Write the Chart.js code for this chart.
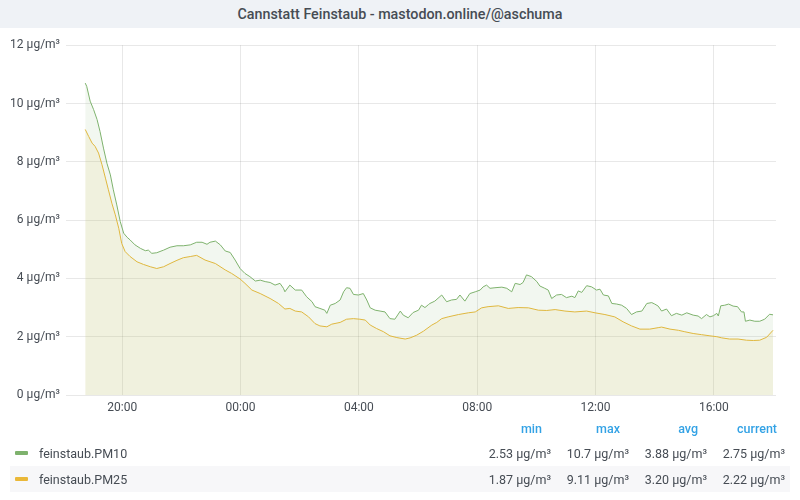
<!DOCTYPE html>
<html>
<head>
<meta charset="utf-8">
<script src="https://cdn.jsdelivr.net/npm/chart.js@4"></script>
<style>
  html, body { margin: 0; padding: 0; background: #fff; font-family: Roboto, sans-serif; }
  #wrap { position: relative; width: 800px; height: 500px; overflow: hidden; }
  #title { position: absolute; left: 0; top: 0; width: 800px; height: 28px; background: #eff2f6;
           color: #464c54; font-size: 14.3px; font-weight: 500; text-align: center; line-height: 28px; }
  #box { position: absolute; left: 0; top: 32px; width: 800px; height: 390px; }
  #legend { position: absolute; left: 10px; top: 416px; width: 780px; border-collapse: collapse;
            font-size: 12.5px; color: #464c54; }
  #legend td, #legend th { padding: 0; height: 26px; white-space: nowrap; }
  #legend th { color: #33a2e5; font-weight: 500; text-align: right; padding-right: 9px; height: 24px; }
  #legend th.last { padding-right: 13px; }
  #legend td.v { text-align: right; width: 78px; }
  #legend td.last { padding-right: 5px; }
  #legend tr.alt td { background: #f7f7f9; }
  .sw { display: inline-block; width: 13px; height: 4px; margin: 0 11px 3px 5px; vertical-align: middle; border-radius: 1px; }
</style>
</head>
<body>
<div id="wrap">
  <div id="title">Cannstatt Feinstaub - mastodon.online/@aschuma</div>
  <div id="box"><canvas id="c" width="800" height="390"></canvas></div>
  <table id="legend"></table>
</div>
<script>
// ticks
const tickLabels = ['20:00', '00:00', '04:00', '08:00', '12:00', '16:00'];
const yTicks = [0, 2, 4, 6, 8, 10, 12];
const unit = ' µg/m³';

// feinstaub.PM10
const pm10Times = ['18:45','18:48','18:55','19:02','19:09','19:15','19:22','19:29','19:36','19:42','19:49','19:56',
  '20:03','20:10','20:16','20:26','20:37','20:47','20:53','21:00','21:10','21:24','21:37','21:51','22:04','22:18',
  '22:31','22:42','22:52','22:58','23:09','23:19','23:29','23:39','23:49','23:59','00:09','00:19','00:30','00:40',
  '00:50','01:00','01:10','01:20','01:27','01:30','01:40','01:51','02:04','02:14','02:25','02:31','02:41','02:51',
  '02:55','03:02','03:12','03:22','03:29','03:35','03:42','03:49','03:59','04:09','04:16','04:23','04:33','04:43',
  '04:53','05:03','05:13','05:24','05:30','05:40','05:50','06:01','06:07','06:14','06:21','06:24','06:34','06:48',
  '06:58','07:08','07:18','07:25','07:35','07:45','07:56','08:06','08:12','08:19','08:26','08:36','08:50','09:00',
  '09:10','09:17','09:27','09:33','09:40','09:50','10:01','10:07','10:17','10:24','10:31','10:41','10:51','11:01',
  '11:12','11:18','11:25','11:32','11:42','11:52','12:02','12:09','12:16','12:26','12:33','12:43','12:53','13:03',
  '13:13','13:23','13:34','13:44','13:54','14:00','14:07','14:14','14:24','14:34','14:44','14:55','15:05','15:18',
  '15:28','15:35','15:45','15:52','15:59','16:06','16:09','16:14','16:22','16:30','16:39','16:48','16:56','17:01',
  '17:04','17:13','17:23','17:33','17:43','17:53','18:00'];
const pm10Values = [10.70,10.59,10.08,9.79,9.45,9.04,8.47,7.95,7.55,7.04,6.52,5.95,
  5.55,5.41,5.32,5.15,5.03,4.95,4.97,4.86,4.88,4.97,5.07,5.12,5.12,5.15,
  5.24,5.24,5.17,5.24,5.28,5.15,4.94,4.89,4.63,4.34,4.17,4.06,3.91,3.94,
  3.89,3.86,3.77,3.83,3.66,3.54,3.77,3.60,3.60,3.37,3.20,3.03,2.97,2.91,
  2.80,3.08,3.14,3.26,3.54,3.68,3.66,3.45,3.43,3.48,3.26,2.99,2.91,2.88,
  2.85,2.62,2.60,2.88,2.74,2.65,2.83,2.91,3.08,3.00,3.10,3.14,3.22,3.43,
  3.20,3.26,3.28,3.43,3.22,3.48,3.54,3.60,3.71,3.77,3.66,3.68,3.70,3.66,
  3.54,3.83,3.79,3.86,4.12,4.06,3.89,3.74,3.66,3.60,3.31,3.43,3.45,3.34,
  3.39,3.34,3.57,3.52,3.75,3.71,3.60,3.63,3.43,3.40,3.14,3.12,3.08,2.97,
  2.76,2.85,2.88,3.14,3.17,3.12,3.05,2.88,2.95,2.72,2.80,2.74,2.82,2.74,
  2.71,2.62,2.76,2.68,2.72,2.80,2.71,3.06,3.08,3.12,3.05,3.03,2.85,2.85,
  2.53,2.57,2.53,2.53,2.60,2.77,2.75];

// feinstaub.PM25
const pm25Times = ['18:45','18:52','18:59','19:05','19:12','19:19','19:26','19:32','19:39','19:46','19:53','19:59',
  '20:06','20:16','20:30','20:43','20:57','21:10','21:24','21:37','21:51','22:04','22:18','22:31','22:48','23:09',
  '23:29','23:42','23:59','00:09','00:23','00:40','01:00','01:17','01:30','01:40','01:51','02:04','02:18','02:31',
  '02:41','02:55','03:05','03:22','03:35','03:49','04:02','04:13','04:23','04:36','04:50','05:03','05:17','05:34',
  '05:44','05:57','06:11','06:28','06:38','06:48','07:01','07:22','07:42','07:56','08:09','08:22','08:43','09:03',
  '09:23','09:44','10:04','10:21','10:38','10:58','11:18','11:42','11:59','12:19','12:39','12:56','13:13','13:30',
  '13:50','14:07','14:14','14:31','14:48','15:01','15:18','15:35','15:52','16:06','16:16','16:32','16:49','17:06',
  '17:20','17:33','17:47','18:00'];
const pm25Values = [9.11,8.87,8.64,8.53,8.30,7.90,7.44,7.04,6.58,6.18,5.72,5.20,
  4.92,4.75,4.57,4.48,4.40,4.34,4.40,4.51,4.62,4.71,4.75,4.79,4.63,4.51,
  4.29,4.17,3.98,3.83,3.60,3.48,3.31,3.14,2.95,2.97,2.88,2.85,2.68,2.45,
  2.37,2.34,2.43,2.49,2.60,2.62,2.60,2.57,2.40,2.28,2.17,2.03,1.97,1.92,
  1.96,2.05,2.19,2.40,2.49,2.62,2.68,2.76,2.82,2.85,2.99,3.03,3.06,2.97,
  3.00,2.99,2.91,2.90,2.93,2.88,2.85,2.88,2.82,2.76,2.68,2.51,2.37,2.26,
  2.26,2.31,2.33,2.26,2.22,2.17,2.11,2.07,2.03,2.00,1.96,1.92,1.92,1.88,
  1.87,1.88,1.98,2.22];

// legend stats (as shown)
const seriesNames = ['feinstaub.PM10', 'feinstaub.PM25'];
const statHeaders = ['min', 'max', 'avg', 'current'];
const pm10Stats = ['2.53', '10.7', '3.88', '2.75'];
const pm25Stats = ['1.87', '9.11', '3.20', '2.22'];

const colors = ['#7eb26d', '#eab839'];

// hours since midnight of the first day; times before 18:30 belong to the next day
function toHours(t) {
  const [h, m] = t.split(':').map(Number);
  let v = h + m / 60;
  if (v < 18.5) v += 24;
  return v;
}
const tickHours = tickLabels.map(toHours);
const pts = (times, vals) => times.map((t, i) => ({ x: toHours(t), y: vals[i] }));

const font = { family: 'Roboto', size: 12 };
const textColor = '#464c54';
const gridColor = 'rgba(0,0,0,0.09)';

new Chart(document.getElementById('c'), {
  type: 'line',
  data: {
    datasets: [
      { label: seriesNames[0], data: pts(pm10Times, pm10Values), borderColor: colors[0],
        backgroundColor: 'rgba(126,178,109,0.1)', borderWidth: 1, pointRadius: 0, fill: 'origin', tension: 0 },
      { label: seriesNames[1], data: pts(pm25Times, pm25Values), borderColor: colors[1],
        backgroundColor: 'rgba(234,184,57,0.1)', borderWidth: 1, pointRadius: 0, fill: 'origin', tension: 0 }
    ]
  },
  options: {
    responsive: false,
    animation: false,
    layout: { padding: { top: 12, right: 24, left: 0, bottom: 0 } },
    plugins: { legend: { display: false }, tooltip: { enabled: false } },
    scales: {
      x: {
        type: 'linear',
        min: 18.1, max: 42.1,
        afterBuildTicks: s => { s.ticks = tickHours.map(v => ({ value: v })); },
        afterFit: s => { s.height = 27; },
        ticks: { font, color: textColor, padding: 6, maxRotation: 0,
                 callback: (v) => tickLabels[tickHours.indexOf(v)] },
        grid: { color: gridColor, drawTicks: false },
        border: { display: false }
      },
      y: {
        min: 0, max: 12,
        afterBuildTicks: s => { s.ticks = yTicks.map(v => ({ value: v })); },
        afterFit: s => { s.width = 66; },
        ticks: { font, color: textColor, padding: 6, callback: v => v + unit },
        grid: { color: gridColor, drawTicks: false },
        border: { display: false }
      }
    }
  }
});

// legend table
const legend = document.getElementById('legend');
const last = i => (i === statHeaders.length - 1 ? ' last' : '');
let html = '<tr><th style="text-align:left"></th>' +
  statHeaders.map((h, j) => '<th class="' + last(j) + '">' + h + '</th>').join('') + '</tr>';
[pm10Stats, pm25Stats].forEach((st, i) => {
  html += '<tr' + (i === 1 ? ' class="alt"' : '') + '><td><span class="sw" style="background:' + colors[i] + '"></span>' +
    seriesNames[i] + '</td>' + st.map((v, j) => '<td class="v' + last(j) + '">' + v + unit + '</td>').join('') + '</tr>';
});
legend.innerHTML = html;
</script>
</body>
</html>
